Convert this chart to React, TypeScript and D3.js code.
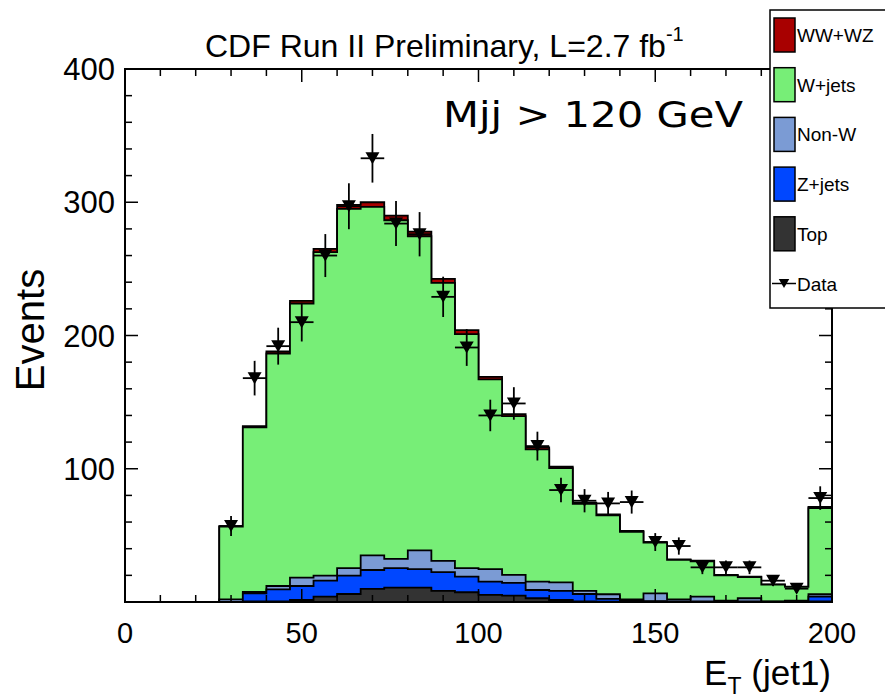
import React from "react";
import * as d3 from "d3";

const binEdges = d3.range(31).map((i) => (i * 200) / 30);
const topVals = [0,0,0,0,0,0.5,0.5,1.5,4,6,9.8,10.8,10.8,8.3,7.3,5.3,4.8,2.8,1.5,0.5,0.3,0.2,0.2,0.1,0.1,0.1,0.1,0,0,0.5];
const zjetsVals = [0,0,0,0,0,6,9,10.5,12,13.8,14.2,14.6,13.8,14.1,11.7,10,9.5,6.2,6.8,5.5,2,0.8,0.5,0.4,0.4,0.3,0.4,0.2,0.3,3.5];
const nonWVals = [0,0,0,0,2,1,2.5,6.3,3.8,5.6,11,7,14.1,8.5,6.4,9.3,6,6.3,6.5,2.3,3.5,1,5.8,1.5,3.5,0.6,2.3,0.3,0.7,1.8];
const wjetsVals = [0,0,0,0,54.5,123.5,174.5,205.7,242.7,269.6,261.5,254.1,235.8,208.6,175.6,142.4,119.2,99.2,85.7,65.3,59.2,50.7,38,29.6,26.6,19,15.9,12.6,10.3,64.7];
const wwVals = [0,0,0,0,0.5,1,1.5,2,2.5,3,3.5,3.5,3.5,3,3,2,1.5,1.5,1,1,0.8,0.6,0.5,0.4,0.4,0.3,0.3,0.2,0.2,0.8];
const dataVals: (number | null)[] = [null,null,null,null,57,168,192,210,260,297,333,284,276,229,191,140,149,117,84,76,74,75,45,42,26,26,26,16,10,78];

const seriesNames = ["WW+WZ", "W+jets", "Non-W", "Z+jets", "Top"];
const seriesColors = ["#a80000", "#77ee77", "#7b9bd4", "#0047ff", "#333333"];
const xTicks = [0, 50, 100, 150, 200];
const yTicks = [100, 200, 300, 400];

const W = 885, H = 698;
const x = d3.scaleLinear().domain([0, 200]).range([125, 832]);
const y = d3.scaleLinear().domain([0, 400]).range([602, 69]);

export default function App() {
  const bottomUp = [topVals, zjetsVals, nonWVals, wjetsVals, wwVals];
  const cums: number[][] = [];
  let acc = new Array(30).fill(0);
  for (const s of bottomUp) {
    acc = acc.map((a, i) => a + s[i]);
    cums.push(acc.slice());
  }
  const drawOrder = [4, 3, 2, 1, 0];
  const colorsBottomUp = ["#333333", "#0047ff", "#7b9bd4", "#77ee77", "#a80000"];

  const area = d3
    .area<[number, number]>()
    .x((d) => x(d[0]))
    .y0(y(0))
    .y1((d) => y(d[1]))
    .curve(d3.curveStepAfter);

  const mkPts = (vals: number[]): [number, number][] => {
    const pts: [number, number][] = vals.map((v, i) => [binEdges[i], v]);
    pts.push([binEdges[30], vals[29]]);
    return pts;
  };

  const yMinor = d3.range(0, 401, 20);
  const xMinor = d3.range(0, 201, 10);

  const legendRows = [...seriesNames.map((n, i) => ({ n, c: seriesColors[i] })), { n: "Data", c: null as string | null }];

  const tri = (cx: number, cy: number, s = 1) =>
    `M${cx - 7 * s},${cy - 6 * s}L${cx + 7 * s},${cy - 6 * s}L${cx},${cy + 6 * s}Z`;

  return (
    <svg width={W} height={H} style={{ display: "block", position: "absolute", left: 0, top: 0 }}>
      <rect x={0} y={0} width={W} height={H} fill="#fff" />
      {drawOrder.map((k) => (
        <path
          key={k}
          d={area(mkPts(cums[k])) || ""}
          fill={colorsBottomUp[k]}
          stroke="#000"
          strokeWidth={1.8}
          strokeLinejoin="miter"
        />
      ))}
      {dataVals.map((v, i) => {
        if (v === null) return null;
        const cx = x((binEdges[i] + binEdges[i + 1]) / 2);
        const e = Math.sqrt(v);
        return (
          <g key={i}>
            <line x1={x(binEdges[i])} x2={x(binEdges[i + 1])} y1={y(v)} y2={y(v)} stroke="#000" strokeWidth={1.8} />
            <line x1={cx} x2={cx} y1={y(v + e)} y2={y(Math.max(0, v - e))} stroke="#000" strokeWidth={1.8} />
            <path d={tri(cx, y(v))} fill="#000" />
          </g>
        );
      })}
      <rect x={125} y={69} width={707} height={533} fill="none" stroke="#000" strokeWidth={2} />
      {yMinor.map((t) => {
        const major = t % 100 === 0;
        const len = major ? 13 : 7;
        return (
          <g key={"y" + t}>
            <line x1={125} x2={125 + len} y1={y(t)} y2={y(t)} stroke="#000" strokeWidth={1.5} />
            <line x1={832} x2={832 - len} y1={y(t)} y2={y(t)} stroke="#000" strokeWidth={1.5} />
          </g>
        );
      })}
      {xMinor.map((t) => {
        const major = t % 50 === 0;
        const len = major ? 13 : 7;
        return (
          <g key={"x" + t}>
            <line x1={x(t)} x2={x(t)} y1={602} y2={602 - len} stroke="#000" strokeWidth={1.5} />
            <line x1={x(t)} x2={x(t)} y1={69} y2={69 + len} stroke="#000" strokeWidth={1.5} />
          </g>
        );
      })}
      {yTicks.map((t) => (
        <text key={"yl" + t} x={115} y={y(t) + 11} textAnchor="end" fontFamily="Liberation Sans, Arial, sans-serif" fontSize={31}>
          {t}
        </text>
      ))}
      {xTicks.map((t) => (
        <text key={"xl" + t} x={x(t)} y={643} textAnchor="middle" fontFamily="Liberation Sans, Arial, sans-serif" fontSize={29}>
          {t}
        </text>
      ))}
      <text
        transform="translate(44,330) rotate(-90)"
        textAnchor="middle"
        fontFamily="Liberation Sans, Arial, sans-serif"
        fontSize={40}
      >
        Events
      </text>
      <text x={831} y={685} textAnchor="end" fontFamily="Liberation Sans, Arial, sans-serif" fontSize={35}>
        E<tspan fontSize={23} dy={9}>T</tspan>
        <tspan dy={-9}> (jet1)</tspan>
      </text>
      <text x={205} y={57} fontFamily="Liberation Sans, Arial, sans-serif" fontSize={32}>
        CDF Run II Preliminary, L=2.7 fb<tspan fontSize={20} dy={-16}>-1</tspan>
      </text>
      <text x={443} y={127} fontFamily="DejaVu Sans, sans-serif" fontSize={35} textLength={300} lengthAdjust="spacingAndGlyphs">
        Mjj &gt; 120 GeV
      </text>
      <rect x={770} y={10} width={130} height={298} fill="#fff" stroke="#000" strokeWidth={1.5} />
      {legendRows.map((r, i) => {
        const cy = 35 + i * 49.7;
        return (
          <g key={r.n}>
            {r.c ? (
              <rect x={774} y={cy - 17} width={21} height={34} fill={r.c} stroke="#000" strokeWidth={1.5} />
            ) : (
              <g>
                <line x1={772} x2={796} y1={cy} y2={cy} stroke="#000" strokeWidth={1.5} />
                <path d={tri(784, cy, 0.75)} fill="#000" />
              </g>
            )}
            <text x={797} y={cy + 7} fontFamily="Liberation Sans, Arial, sans-serif" fontSize={19}>
              {r.n}
            </text>
          </g>
        );
      })}
    </svg>
  );
}
